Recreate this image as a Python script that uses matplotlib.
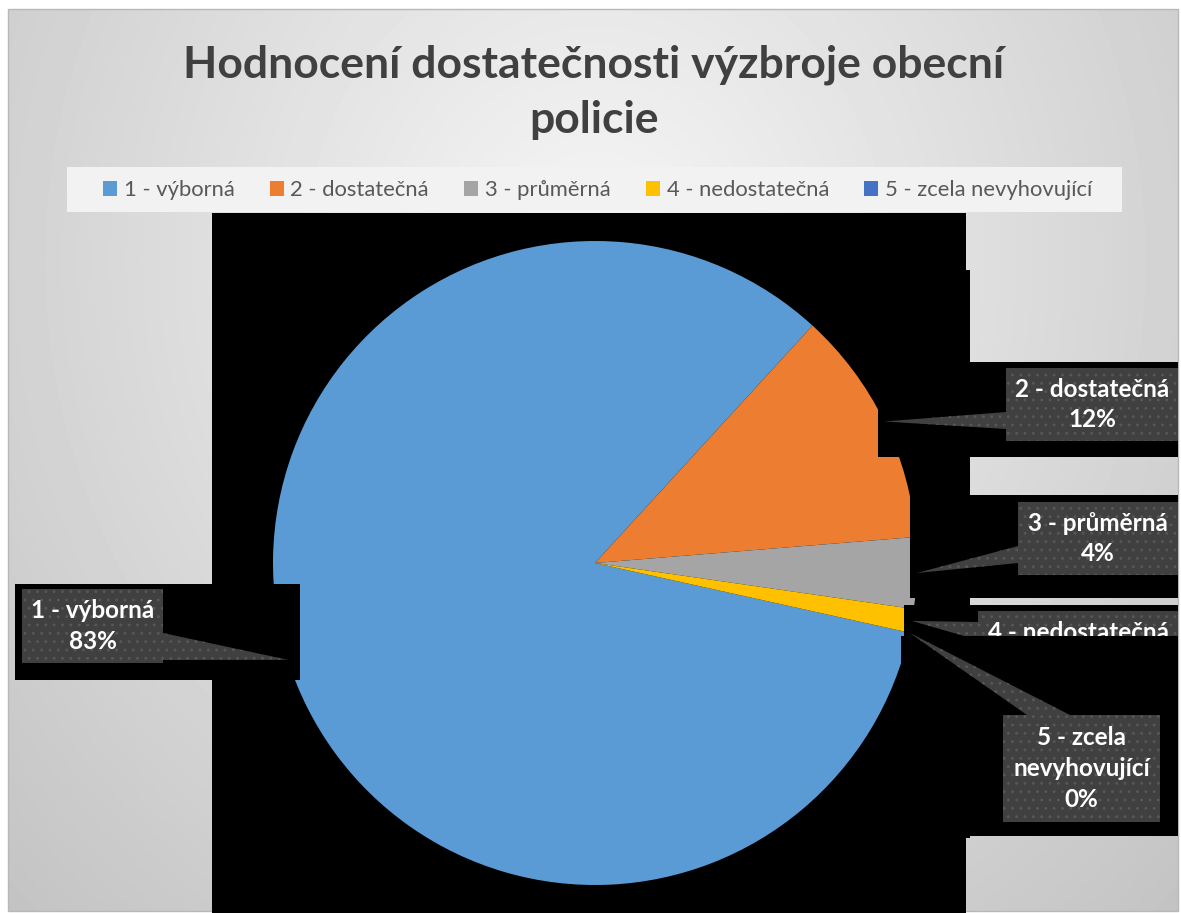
import numpy as np
import matplotlib
matplotlib.use("Agg")
import matplotlib.pyplot as plt
from matplotlib.patches import Rectangle, Polygon

W, H = 1181, 913

# ── data ──────────────────────────────────────────────────────────────────
categories = ["1 - výborná", "2 - dostatečná", "3 - průměrná",
              "4 - nedostatečná", "5 - zcela nevyhovující"]
label_names = ["1 - výborná", "2 - dostatečná", "3 - průměrná",
               "4 - nedostatečná", "5 - zcela\nnevyhovující"]
counts = [70, 10, 3, 1, 0]
colors = ["#5B9BD5", "#ED7D31", "#A5A5A5", "#FFC000", "#4472C4"]
title_lines = ["Hodnocení dostatečnosti výzbroje obecní", "policie"]

FONT = ["Lato", "DejaVu Sans"]
plt.rcParams["font.family"] = FONT
plt.rcParams["hatch.linewidth"] = 0.9


def Y(y):
    # image row (top = 0) -> axis y
    return H - y


def rect(ax, x0, y0, x1, y1, z, **kw):
    ax.add_patch(Rectangle((x0, Y(y1)), x1 - x0, y1 - y0, zorder=z, **kw))


fig = plt.figure(figsize=(W / 100, H / 100), dpi=100)
fig.patch.set_facecolor("white")
ax = fig.add_axes([0, 0, 1, 1])

# ── background: radial grey gradient ──────────────────────────────────────
yy, xx = np.mgrid[9:911, 8:1178]
d = np.sqrt(((xx - 595) / 585) ** 2 + ((yy - 260) / 650) ** 2) / np.sqrt(2)
bg = 0.965 - 0.2 * d
ax.imshow(bg, cmap="gray", vmin=0, vmax=1, extent=(8, 1178, Y(911), Y(9)),
          origin="upper", zorder=0, interpolation="bilinear")
rect(ax, 8, 9, 1178, 911, 0.5, facecolor="none", edgecolor="#b8b8b8", lw=1)

# rendering artefacts behind the pie
rect(ax, 212, 213, 966, 913, 1, facecolor="black", lw=0)
rect(ax, 966, 270, 970, 838, 1, facecolor="black", lw=0)

# ── pie ───────────────────────────────────────────────────────────────────
cx, cy, R = 595, Y(563), 322
wedges, _ = ax.pie(counts, colors=colors, startangle=-12.5, counterclock=False,
                   center=(cx, cy), radius=R,
                   wedgeprops=dict(linewidth=0, zorder=2))

# ── title ─────────────────────────────────────────────────────────────────
ax.text(594, Y(77), title_lines[0], ha="center", va="baseline", fontsize=32,
        fontweight="bold", color="#404040", zorder=10)
ax.text(594, Y(133), title_lines[1], ha="center", va="baseline", fontsize=32,
        fontweight="bold", color="#404040", zorder=10)

# ── legend ────────────────────────────────────────────────────────────────
leg = ax.legend(wedges, categories, ncol=5, loc="center",
                bbox_to_anchor=(597.5, Y(190)), bbox_transform=ax.transData,
                frameon=False, fontsize=15.8,
                handlelength=0.65, handleheight=0.65, handletextpad=0.3,
                columnspacing=1.6, labelcolor="#595959")
leg.set_zorder(10)
rect(ax, 67, 167, 1122, 212, 9, facecolor="#f2f2f2", lw=0)

# ── data labels (box, pointer base, black backing) ────────────────────────
boxes = [(22, 589, 163, 663), (1006, 368, 1178, 441), (1018, 502, 1178, 575),
         (978, 611, 1178, 684), (1003, 715, 1160, 822)]
bases = [((163, 633), (163, 660)), ((1006, 412), (1006, 429)),
         ((1018, 546), (1018, 563)), ((978, 622), (978, 640)),
         ((1027, 715), (1070, 715))]
backs = [(15, 584, 300, 680), (878, 362, 1178, 457), (910, 495, 1178, 598),
         (904, 605, 1178, 636), (901, 636, 1178, 836)]

total = sum(counts)
style = dict(facecolor="#404040", edgecolor="#575757", lw=0, hatch="..")
for i, w in enumerate(wedges):
    z = 3 + 2 * i
    rect(ax, *backs[i], z, facecolor="black", lw=0)
    mid = np.deg2rad((w.theta1 + w.theta2) / 2)
    tip = (cx + R * np.cos(mid), cy + R * np.sin(mid))
    (bx0, by0), (bx1, by1) = bases[i]
    ax.add_patch(Polygon([tip, (bx0, Y(by0)), (bx1, Y(by1))], closed=True,
                         zorder=z + 0.5, **style))
    x0, y0, x1, y1 = boxes[i]
    rect(ax, x0, y0, x1, y1, z + 0.6, **style)
    pct = round(100 * counts[i] / total)
    ax.text((x0 + x1) / 2, Y((y0 + y1) / 2), f"{label_names[i]}\n{pct}%",
            ha="center", va="center", fontsize=17.5, fontweight="bold",
            color="white", linespacing=1.4, zorder=z + 0.8)

ax.set_xlim(0, W)
ax.set_ylim(0, H)
ax.set_aspect("equal")
ax.axis("off")

fig.savefig("out.png", dpi=100, facecolor=fig.get_facecolor())
